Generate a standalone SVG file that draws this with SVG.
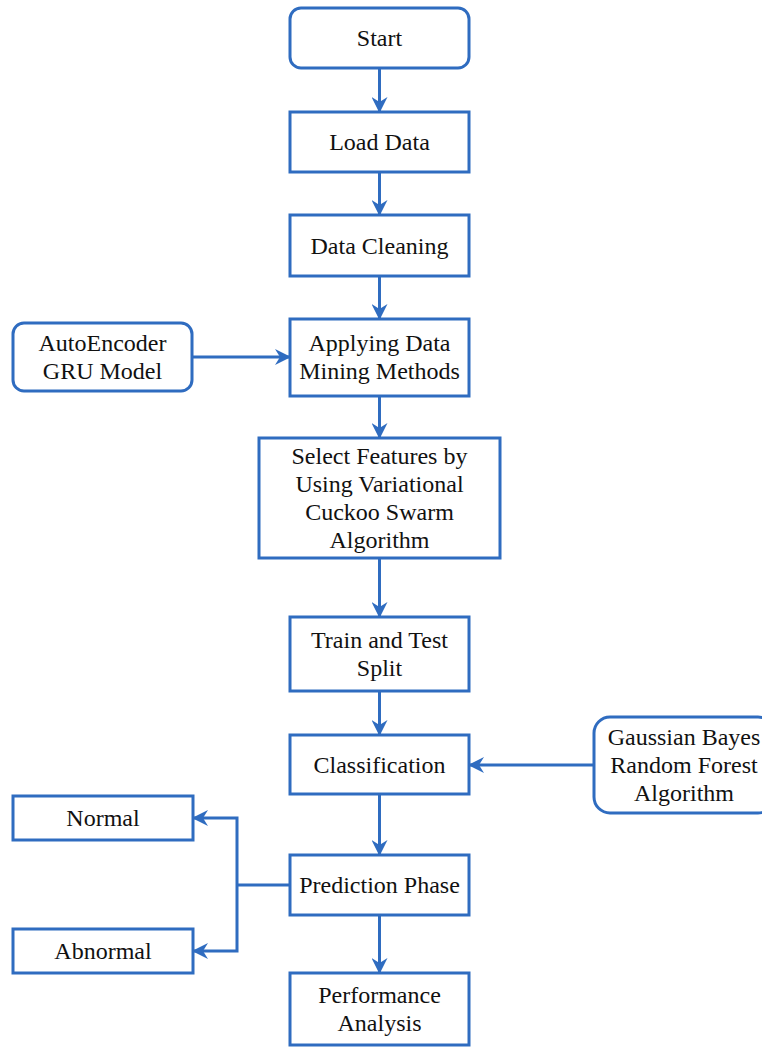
<svg xmlns="http://www.w3.org/2000/svg" width="762" height="1050" viewBox="0 0 762 1050">
<style>
.box{fill:#fff;stroke:#2f6cc0;stroke-width:3}
.t{font-family:"Liberation Serif","Times New Roman",serif;font-size:24px;fill:#111;text-anchor:middle}
.c{fill:none;stroke:#2f6cc0;stroke-width:3}
</style>
<defs>
<marker id="ah" markerUnits="userSpaceOnUse" markerWidth="16" markerHeight="16" refX="15" refY="8" orient="auto">
<path d="M0,0 L16,8 L0,16 L5,8 z" fill="#2f6cc0"/>
</marker>
</defs>
<rect width="762" height="1050" fill="#fff"/>
<g id="connectors">
<line class="c" x1="379.5" y1="68" x2="379.5" y2="112" marker-end="url(#ah)"/>
<line class="c" x1="379.5" y1="172" x2="379.5" y2="215" marker-end="url(#ah)"/>
<line class="c" x1="379.5" y1="276" x2="379.5" y2="319" marker-end="url(#ah)"/>
<line class="c" x1="192" y1="357" x2="290" y2="357" marker-end="url(#ah)"/>
<line class="c" x1="379.5" y1="396" x2="379.5" y2="438" marker-end="url(#ah)"/>
<line class="c" x1="379.5" y1="558" x2="379.5" y2="617" marker-end="url(#ah)"/>
<line class="c" x1="379.5" y1="691" x2="379.5" y2="735" marker-end="url(#ah)"/>
<line class="c" x1="594" y1="765" x2="469" y2="765" marker-end="url(#ah)"/>
<line class="c" x1="379.5" y1="794" x2="379.5" y2="855" marker-end="url(#ah)"/>
<line class="c" x1="290" y1="885" x2="237" y2="885"/>
<polyline class="c" points="237,885 237,818 193,818" marker-end="url(#ah)"/>
<polyline class="c" points="237,885 237,951 193,951" marker-end="url(#ah)"/>
<line class="c" x1="379.5" y1="915" x2="379.5" y2="973" marker-end="url(#ah)"/>
</g>
<g id="start"><rect class="box" x="290" y="8" width="179" height="60" rx="11"/><text class="t" x="379.5" y="46">Start</text></g>
<g id="load"><rect class="box" x="290" y="112" width="179" height="60"/><text class="t" x="379.5" y="150">Load Data</text></g>
<g id="clean"><rect class="box" x="290" y="215" width="179" height="61"/><text class="t" x="379.5" y="254">Data Cleaning</text></g>
<g id="autoenc"><rect class="box" x="13" y="323" width="179" height="68" rx="11"/><text class="t" x="102.5" y="351">AutoEncoder</text><text class="t" x="102.5" y="379">GRU Model</text></g>
<g id="mining"><rect class="box" x="290" y="319" width="179" height="77"/><text class="t" x="379.5" y="351">Applying Data</text><text class="t" x="379.5" y="379">Mining Methods</text></g>
<g id="select"><rect class="box" x="259" y="438" width="241" height="120"/><text class="t" x="379.5" y="464">Select Features by</text><text class="t" x="379.5" y="492">Using Variational</text><text class="t" x="379.5" y="520">Cuckoo Swarm</text><text class="t" x="379.5" y="548">Algorithm</text></g>
<g id="split"><rect class="box" x="290" y="617" width="179" height="74"/><text class="t" x="379.5" y="648">Train and Test</text><text class="t" x="379.5" y="676">Split</text></g>
<g id="classify"><rect class="box" x="290" y="735" width="179" height="59"/><text class="t" x="379.5" y="773">Classification</text></g>
<g id="gauss"><rect class="box" x="594" y="717" width="180" height="96" rx="16"/><text class="t" x="684" y="745">Gaussian Bayes</text><text class="t" x="684" y="773">Random Forest</text><text class="t" x="684" y="801">Algorithm</text></g>
<g id="normal"><rect class="box" x="13" y="796" width="180" height="44"/><text class="t" x="103" y="826">Normal</text></g>
<g id="predict"><rect class="box" x="290" y="855" width="179" height="60"/><text class="t" x="379.5" y="893">Prediction Phase</text></g>
<g id="abnormal"><rect class="box" x="13" y="929" width="180" height="44"/><text class="t" x="103" y="959">Abnormal</text></g>
<g id="perf"><rect class="box" x="290" y="973" width="179" height="72"/><text class="t" x="379.5" y="1003">Performance</text><text class="t" x="379.5" y="1031">Analysis</text></g>
</svg>
